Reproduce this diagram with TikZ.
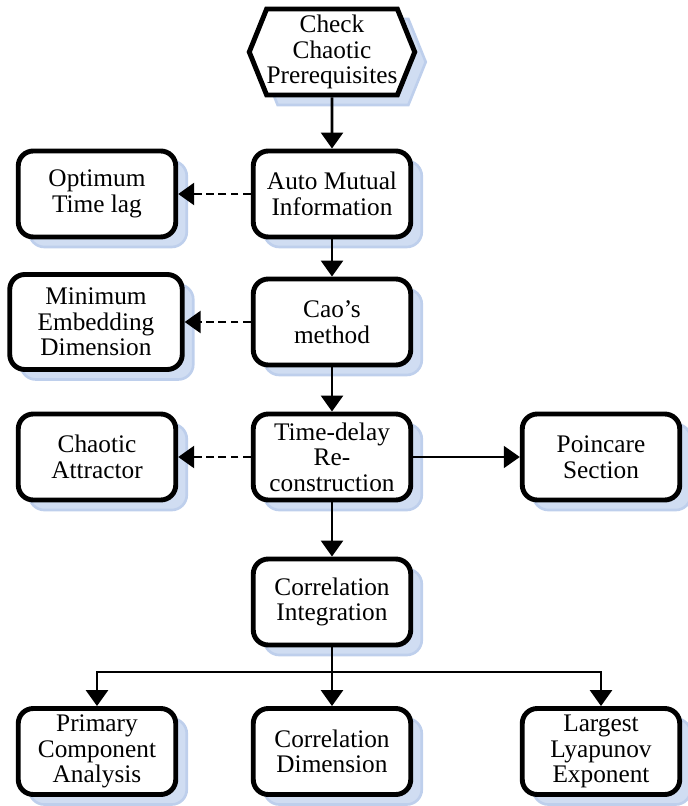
\documentclass[tikz,border=0pt]{standalone}
\usepackage{fontspec}
\setmainfont{Liberation Serif}
\usetikzlibrary{shapes.symbols,shadows,arrows.meta}
\definecolor{shadowblue}{RGB}{208,221,242}
\definecolor{shadowrim}{RGB}{190,207,236}

\begin{document}
\begin{tikzpicture}[
  box/.style={draw, rounded corners=0.3cm, line width=2.8pt, fill=white, align=center, font=\fontsize{14.4}{14.6}\selectfont, minimum width=3.15cm, minimum height=1.72cm, inner sep=2pt,
    drop shadow={shadow xshift=0.22cm, shadow yshift=-0.2cm, fill=shadowblue, draw=shadowrim, line width=1.5pt, opacity=1}},
  start/.style={box, rounded corners=0pt, shape=signal, signal to=west and east, signal pointer angle=136, minimum width=3.2cm, inner xsep=0pt},
  arrow/.style={-{Triangle[length=0.32cm, width=0.44cm]}, line width=1.6pt},
  dasharrow/.style={arrow, dash pattern=on 4.5pt off 2.5pt},
  thinarrow/.style={arrow, line width=1.1pt}
]
\useasboundingbox (0,0) rectangle (13.74,-16.12);

% Main column
\node[start] (check) at (6.64,-1.04) {Check\\Chaotic\\Prerequisites};
\node[box] (ami)     at (6.64,-3.88)  {Auto Mutual\\Information};
\node[box] (cao)     at (6.64,-6.44)  {Cao’s\\method};
\node[box] (tdr)     at (6.64,-9.14)  {Time-delay\\Re-\\construction};
\node[box] (corrint) at (6.64,-12.04) {Correlation\\Integration};

% Side results
\node[box] (optlag)  at (1.94,-3.88)  {Optimum\\Time lag};
\node[box, minimum width=3.45cm, minimum height=1.9cm] (minemb) at (1.92,-6.44) {Minimum\\Embedding\\Dimension};
\node[box] (attr)    at (1.94,-9.14)  {Chaotic\\Attractor};
\node[box] (poinc)   at (12.02,-9.14) {Poincare\\Section};

% Bottom row
\node[box] (pca)     at (1.94,-15.03)  {Primary\\Component\\Analysis};
\node[box] (corrdim) at (6.64,-15.03)  {Correlation\\Dimension};
\node[box] (lyap)    at (12.02,-15.03) {Largest\\Lyapunov\\Exponent};
\coordinate (split) at (6.64,-13.44);

% Arrows
\draw[arrow] (check) -- (ami);
\draw[dasharrow] (ami) -- (optlag);
\draw[arrow] (ami) -- (cao);
\draw[dasharrow] (cao) -- (minemb);
\draw[arrow] (cao) -- (tdr);
\draw[dasharrow] (tdr) -- (attr);
\draw[thinarrow] (tdr) -- (poinc);
\draw[arrow] (tdr) -- (corrint);
\draw[line width=1.6pt] (corrint) -- (split);
\draw[arrow] (split) -- (corrdim);
\draw[arrow] (split) -| (pca);
\draw[arrow] (split) -| (lyap);
\end{tikzpicture}
\end{document}
